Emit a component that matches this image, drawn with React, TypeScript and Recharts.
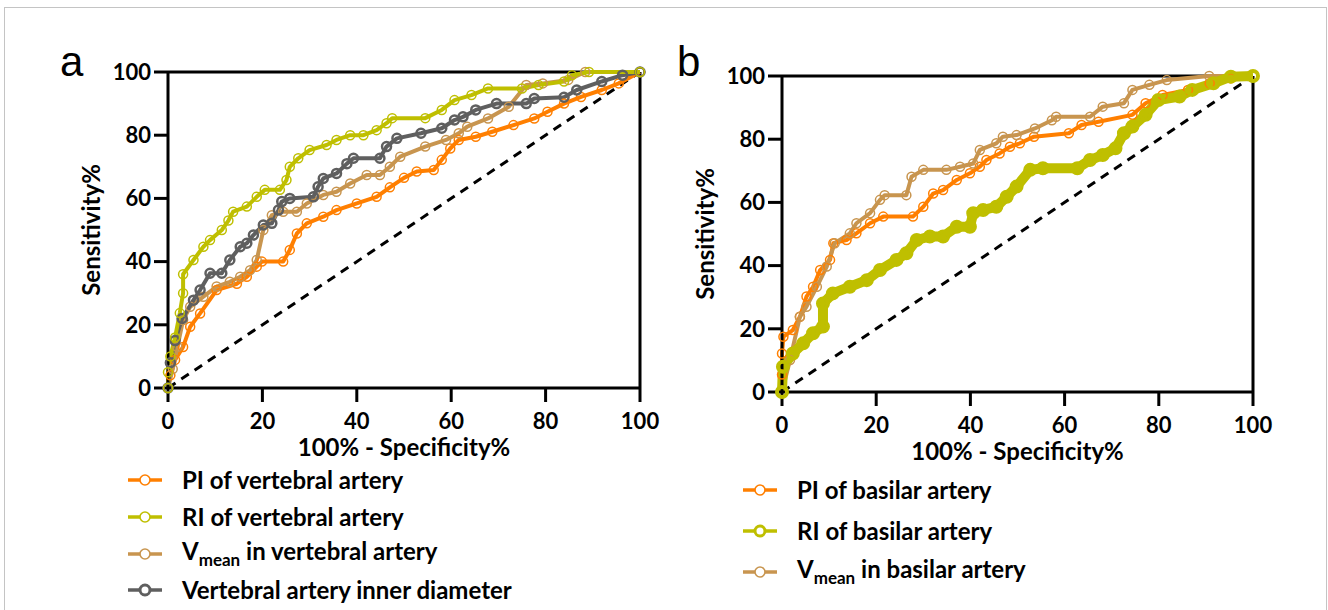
import React from 'react'
import { LineChart, Line, XAxis, YAxis, ReferenceLine, Label } from 'recharts'

type Pt = [number, number]

const TICKS = [0, 20, 40, 60, 80, 100]
const DIAGONAL: Pt[] = [[0, 0], [100, 100]]

// panel a - vertebral artery (100% - specificity, sensitivity)
const piVertebral: Pt[] = [
  [0, 0], [0.5, 4], [1.5, 8.9], [3.2, 13], [4.7, 19.4], [6.8, 23.6], [10.3, 31], [14.6, 33],
  [16.7, 35.2], [18.8, 38.4], [19.9, 40], [24.4, 40], [25.8, 43.7], [27.3, 48.9], [29.4, 52.1],
  [32.9, 54.2], [35.7, 56.3], [40, 58.4], [44.2, 60.5], [47, 63.5], [50, 66.5], [52.7, 68.5],
  [56.3, 69], [58, 72.2], [59.8, 75.8], [61.6, 78.5], [65.2, 79.5], [68.7, 81.1], [73.2, 83.2],
  [77.6, 85.3], [80.4, 87.4], [83.9, 90], [87.5, 92.1], [91.9, 94.3], [95.5, 96.4], [100, 100],
]
const riVertebral: Pt[] = [
  [0, 0], [0, 5], [0.5, 10], [1.5, 16], [2.5, 23.7], [3.2, 30], [3.2, 36], [5.4, 40.5],
  [7.5, 44.7], [8.9, 46.8], [11.4, 50], [12.8, 53], [13.8, 55.8], [16.7, 57.4], [18.8, 60.5],
  [20.5, 62.7], [23.7, 62.7], [25.1, 65.8], [25.8, 70], [27.6, 72.7], [30, 75.3], [33.6, 76.9],
  [35.7, 78.5], [38.6, 80], [41.4, 80], [44.2, 81.6], [46.3, 83.8], [47.5, 85.4], [54.5, 85.4],
  [58, 88], [60.7, 91.1], [64.3, 92.7], [67.8, 94.8], [75, 94.8], [78.5, 95.9], [83.9, 97],
  [85.6, 99], [89.2, 100], [100, 100],
]
const vmeanVertebral: Pt[] = [
  [0, 0], [1, 6], [2, 13], [3.2, 21.5], [4.7, 25.7], [7.5, 28.9], [10.3, 32.1], [13.1, 33.6],
  [15.3, 35.2], [17.4, 37.3], [18.8, 40.5], [20.2, 50], [22, 54.7], [24.4, 55.8], [27.3, 55.8],
  [29.4, 58.4], [32.9, 61.1], [35.7, 62.1], [38.6, 64.7], [42.1, 67.4], [44.9, 67.4], [47, 70],
  [49.2, 73.2], [54.5, 76.4], [58.9, 78.5], [61.6, 80.6], [63.4, 82.7], [67.8, 85.3], [72.2, 89],
  [75.9, 95.9], [79.4, 96.4], [84.8, 97.5], [88.4, 100], [100, 100],
]
const diameterVertebral: Pt[] = [
  [0, 0], [0.5, 8], [1.5, 15], [3, 22], [5.4, 27.8], [6.8, 31], [8.9, 36.3], [11.4, 36.3],
  [13.1, 40.5], [15.3, 44.7], [16.7, 45.8], [18.1, 48.4], [20.2, 51.6], [22, 52.1], [23.4, 56.3],
  [24.1, 59], [25.8, 60], [30.8, 60.5], [31.8, 63.7], [32.9, 66.3], [35.7, 67.9], [37.9, 71],
  [39.3, 72.7], [44.9, 72.7], [46.3, 76.4], [48.5, 79], [53.6, 80.6], [58, 82.2], [60.7, 84.8],
  [62.5, 85.8], [65.2, 88], [69.6, 90], [75.9, 90], [77.6, 91.6], [83.9, 92], [86.6, 94.3],
  [91.9, 97], [96.3, 99], [100, 100],
]

// panel b - basilar artery
const piBasilar: Pt[] = [
  [0, 0], [0, 5.5], [0, 12.2], [0.3, 17.5], [2.3, 19.6], [3.8, 23.8], [5.2, 30.2], [6.6, 33.3],
  [8.1, 38.6], [10.2, 41.8], [10.9, 47.1], [13.7, 48.1], [15.8, 50.2], [18.7, 53.4], [21.5, 55.5],
  [27.8, 55.5], [30, 58.6], [32.1, 62.8], [34.2, 63.9], [37.1, 67.1], [39.9, 69.2], [42, 71.3],
  [43.4, 73.4], [46.2, 75.5], [48.4, 77.6], [50.5, 78.7], [53.5, 80.8], [60.9, 81.9], [63.6, 84.5],
  [67.2, 85.5], [74.4, 87.7], [77.2, 91.4], [80.8, 94], [86.2, 95.6], [90.8, 97.7], [95.3, 99.3],
  [100, 100],
]
const riBasilar: Pt[] = [
  [0, 0], [0.2, 8], [2.3, 12.2], [4.5, 15.4], [6.6, 18.6], [8.7, 20.7], [8.7, 28], [10.8, 31.2],
  [14.4, 33.3], [18, 35.4], [20.8, 38.6], [24.3, 41.8], [26.4, 43.9], [28.6, 48.1], [31.4, 49.2],
  [34.2, 49.2], [37.1, 52.3], [39.9, 52.3], [40.6, 56.6], [42.7, 57.6], [45.5, 58.6], [47.7, 61.8],
  [49.8, 65], [52.7, 70.3], [55.4, 70.8], [62.7, 70.8], [65.4, 73.4], [68.1, 75], [70.8, 77.1],
  [72.6, 81.9], [74.4, 84], [77.2, 87.7], [79.9, 92.4], [84.4, 93.5], [87.1, 95.6], [91.6, 97.7],
  [95.3, 99.8], [100, 100],
]
const vmeanBasilar: Pt[] = [
  [0, 0], [1.7, 10.1], [3.8, 23.8], [5.2, 27], [7.4, 33.3], [9.5, 39.7], [11.2, 47.1], [14.4, 50.2],
  [15.8, 53.4], [18.7, 56.6], [20.8, 60.8], [21.8, 62.3], [26.4, 62.3], [27.5, 68.1], [30, 70.3],
  [34.9, 70.3], [37.8, 71.3], [40.6, 72.3], [42, 76.6], [45.5, 78.7], [46.9, 80.8], [49.8, 81.3],
  [53.7, 83.4], [57.3, 86], [58.2, 87.1], [65.4, 87.1], [68.1, 90.3], [72.6, 91.4], [74.4, 95.6],
  [78, 97.2], [81.7, 98.7], [90.7, 100], [100, 100],
]

const ORANGE = '#ff7f00'
const OLIVE = '#bfbf00'
const TAN = '#c8954f'
const GREY = '#5f5f5f'

const FONT = 'Lato, "Open Sans", sans-serif'

type Series = {
  id: string
  label: string[] // [text] or [main, subscript, rest]
  data: Pt[]
  color: string
  dotWidth: number
  lineWidth: number
  r: number
}

const seriesA: Series[] = [
  { id: 'pi', label: ['PI of vertebral artery'], data: piVertebral, color: ORANGE, dotWidth: 1.5, lineWidth: 4, r: 4.5 },
  { id: 'ri', label: ['RI of vertebral artery'], data: riVertebral, color: OLIVE, dotWidth: 1.5, lineWidth: 4, r: 4.5 },
  { id: 'vmean', label: ['V', 'mean', ' in vertebral artery'], data: vmeanVertebral, color: TAN, dotWidth: 1.5, lineWidth: 4, r: 4.5 },
  { id: 'diam', label: ['Vertebral artery inner diameter'], data: diameterVertebral, color: GREY, dotWidth: 2.5, lineWidth: 4, r: 4.5 },
]
const drawOrderA = ['pi', 'vmean', 'diam', 'ri']

const seriesB: Series[] = [
  { id: 'pi', label: ['PI of basilar artery'], data: piBasilar, color: ORANGE, dotWidth: 1.5, lineWidth: 4, r: 4.5 },
  { id: 'ri', label: ['RI of basilar artery'], data: riBasilar, color: OLIVE, dotWidth: 4, lineWidth: 10, r: 5 },
  { id: 'vmean', label: ['V', 'mean', ' in basilar artery'], data: vmeanBasilar, color: TAN, dotWidth: 1.5, lineWidth: 4, r: 4.5 },
]
const drawOrderB = ['pi', 'vmean', 'ri']

const toRows = (pts: Pt[]) => pts.map(([x, y]) => ({ x, y }))

const axisStroke = { stroke: '#000', strokeWidth: 3 }
const tickFont = { fill: '#000', fontSize: 22, fontFamily: FONT, fontWeight: 700 }
const titleStyle = { fontSize: 24, fontFamily: FONT, fontWeight: 700, fill: '#000' }

const YTitle = (props: any) => {
  const vb = props.viewBox || {}
  const cx = vb.x - 18
  const cy = vb.y + vb.height / 2
  return (
    <text
      x={cx}
      y={cy}
      transform={`rotate(-90 ${cx} ${cy})`}
      textAnchor="middle"
      dominantBaseline="central"
      style={titleStyle}
    >
      Sensitivity%
    </text>
  )
}

function RocPanel({ series, order, width, height, margin }: {
  series: Series[]; order: string[]; width: number; height: number
  margin: { top: number; right: number; bottom: number; left: number }
}) {
  const drawn = order.map((id) => series.find((s) => s.id === id)!)
  return (
    <LineChart width={width} height={height} margin={margin}>
      <XAxis
        type="number"
        dataKey="x"
        domain={[0, 100]}
        ticks={TICKS}
        height={70}
        axisLine={axisStroke}
        tickLine={axisStroke}
        tickSize={14}
        tickMargin={11}
        tick={tickFont}
      >
        <Label value="100% - Specificity%" position="insideBottom" offset={2} style={titleStyle} />
      </XAxis>
      <YAxis
        type="number"
        dataKey="y"
        domain={[0, 100]}
        ticks={TICKS}
        width={60}
        axisLine={axisStroke}
        tickLine={axisStroke}
        tickSize={14}
        tickMargin={3}
        tick={tickFont}
      >
        <Label content={YTitle} />
      </YAxis>
      <ReferenceLine y={100} stroke="#000" strokeWidth={3} />
      <ReferenceLine x={100} stroke="#000" strokeWidth={3} />
      <Line
        data={toRows(DIAGONAL)}
        dataKey="y"
        stroke="#000"
        strokeWidth={3}
        strokeDasharray="9 7"
        dot={false}
        isAnimationActive={false}
      />
      {drawn.map((s) => (
        <Line
          key={s.id}
          data={toRows(s.data)}
          dataKey="y"
          type="linear"
          stroke={s.color}
          strokeWidth={s.lineWidth}
          strokeLinejoin="round"
          dot={{ r: s.r, stroke: s.color, strokeWidth: s.dotWidth, fill: 'none' }}
          isAnimationActive={false}
        />
      ))}
    </LineChart>
  )
}

function LegendIcon({ s }: { s: Series }) {
  return (
    <svg width={34} height={14} style={{ flex: 'none' }}>
      <line x1={0} y1={7} x2={34} y2={7} stroke={s.color} strokeWidth={3.5} />
      <circle cx={17} cy={7} r={5} fill="#fff" stroke={s.color} strokeWidth={s.dotWidth > 2 ? 3 : 1.6} />
    </svg>
  )
}

function LegendBlock({ series, left, top, gap }: { series: Series[]; left: number; top: number; gap: number }) {
  return (
    <div style={{ position: 'absolute', left, top }}>
      {series.map((s) => (
        <div key={s.id} style={{ display: 'flex', alignItems: 'center', height: gap }}>
          <LegendIcon s={s} />
          <span
            style={{
              marginLeft: 20,
              fontFamily: FONT,
              fontWeight: 700,
              fontSize: 24,
              color: '#000',
              whiteSpace: 'nowrap',
              lineHeight: 1,
            }}
          >
            {s.label.length === 3 ? (
              <>
                {s.label[0]}
                <sub style={{ fontSize: 17, verticalAlign: -6 }}>{s.label[1]}</sub>
                {s.label[2]}
              </>
            ) : (
              s.label[0]
            )}
          </span>
        </div>
      ))}
    </div>
  )
}

const panelLetter: React.CSSProperties = {
  position: 'absolute',
  fontFamily: '"Liberation Sans", Arial, sans-serif',
  fontSize: 42,
  lineHeight: 1,
  color: '#000',
}

export default function App() {
  return (
    <div style={{ position: 'absolute', left: 0, top: 0, width: 1328, height: 610, overflow: 'hidden', background: '#fff' }}>
      <div
        style={{
          position: 'absolute', left: 4, top: 7, width: 1323, height: 700,
          border: '1px solid #c4c4c4', boxSizing: 'border-box',
        }}
      />
      <div style={{ position: 'absolute', left: 0, top: 0 }}>
        <RocPanel series={seriesA} order={drawOrderA} width={660} height={470}
          margin={{ top: 72, right: 20, bottom: 12, left: 108 }} />
      </div>
      <div style={{ position: 'absolute', left: 660, top: 0 }}>
        <RocPanel series={seriesB} order={drawOrderB} width={668} height={470}
          margin={{ top: 76, right: 75, bottom: 8, left: 62 }} />
      </div>
      <div style={{ ...panelLetter, left: 60, top: 41 }}>a</div>
      <div style={{ ...panelLetter, left: 677, top: 41 }}>b</div>
      <LegendBlock series={seriesA} left={128} top={462} gap={36.7} />
      <LegendBlock series={seriesB} left={743} top={469} gap={41} />
    </div>
  )
}
